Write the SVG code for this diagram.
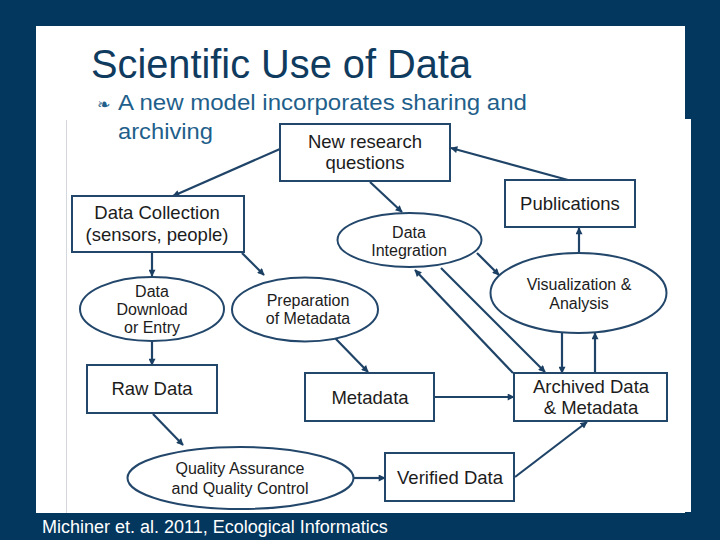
<svg xmlns="http://www.w3.org/2000/svg" width="720" height="540" viewBox="0 0 720 540">
<defs>
<marker id="ah" viewBox="0 0 10 10" refX="9" refY="5" markerWidth="8" markerHeight="7" markerUnits="userSpaceOnUse" orient="auto">
<path d="M0,0 L10,5 L0,10 z" fill="#1b3f63"/>
</marker>
<style>
.box{fill:#ffffff;stroke:#23476b;stroke-width:2}
.t{font-family:"Liberation Sans",Arial,sans-serif;fill:#1c1c1c;text-anchor:middle;font-size:18.5px}
.e{font-size:16px}
.c{fill:none;stroke:#1f4468;stroke-width:2.2;marker-end:url(#ah)}
.h{font-family:"Liberation Sans",Arial,sans-serif}
</style>
</defs>
<rect x="0" y="0" width="720" height="540" fill="#04375e"/>
<rect x="36" y="26" width="649" height="487" fill="#ffffff"/>
<rect x="66" y="119" width="625" height="393" fill="#ffffff"/>
<line x1="66.5" y1="120" x2="66.5" y2="513" stroke="#d4d8dc" stroke-width="1"/>
<g id="title">
<text class="h" x="91" y="78" font-size="41" fill="#0f3b5f" textLength="380" lengthAdjust="spacingAndGlyphs">Scientific Use of Data</text>
<text x="97" y="110" font-family="DejaVu Sans,sans-serif" font-size="16" fill="#1f5f8b">❧</text>
<text class="h" x="118" y="110" font-size="22" fill="#1f5f8b" textLength="409" lengthAdjust="spacingAndGlyphs">A new model incorporates sharing and</text>
<text class="h" x="118" y="139" font-size="22" fill="#1f5f8b" textLength="95" lengthAdjust="spacingAndGlyphs">archiving</text>
</g>
<g id="connectors">
<line class="c" x1="280" y1="149" x2="173" y2="196"/>
<line class="c" x1="568" y1="180" x2="451" y2="148"/>
<line class="c" x1="370" y1="182" x2="402" y2="212"/>
<line class="c" x1="477" y1="253" x2="499" y2="275"/>
<line class="c" x1="579" y1="253" x2="579" y2="228"/>
<line class="c" x1="152" y1="252" x2="152" y2="276"/>
<line class="c" x1="242" y1="253" x2="264" y2="275"/>
<line class="c" x1="152" y1="341" x2="152" y2="365"/>
<line class="c" x1="335" y1="338" x2="368" y2="372"/>
<line class="c" x1="153" y1="414" x2="183" y2="445"/>
<line class="c" x1="353" y1="478" x2="385" y2="478"/>
<line class="c" x1="515" y1="477" x2="587" y2="422"/>
<line class="c" x1="434" y1="397" x2="514" y2="397"/>
<line class="c" x1="562" y1="333" x2="562" y2="373"/>
<line class="c" x1="595" y1="373" x2="595" y2="333"/>
<line class="c" x1="513" y1="373" x2="415" y2="270"/>
<line class="c" x1="441" y1="268" x2="545" y2="372"/>
</g>
<g id="new-research">
<rect class="box" x="280" y="124" width="170" height="57"/>
<text class="t" x="365" y="148">New research</text>
<text class="t" x="365" y="169">questions</text>
</g>
<g id="publications">
<rect class="box" x="505" y="180" width="130" height="47"/>
<text class="t" x="570" y="210">Publications</text>
</g>
<g id="data-collection">
<rect class="box" x="72" y="196" width="172" height="56"/>
<text class="t" x="157" y="219">Data Collection</text>
<text class="t" x="157" y="241">(sensors, people)</text>
</g>
<g id="data-integration">
<ellipse class="box" cx="409.5" cy="240" rx="72" ry="27"/>
<text class="t e" x="409" y="238">Data</text>
<text class="t e" x="409" y="256">Integration</text>
</g>
<g id="visualization">
<ellipse class="box" cx="578.5" cy="293" rx="88" ry="40"/>
<text class="t e" x="579" y="290">Visualization &amp;</text>
<text class="t e" x="579" y="309">Analysis</text>
</g>
<g id="data-download">
<ellipse class="box" cx="152" cy="309" rx="72" ry="32"/>
<text class="t e" x="152" y="297">Data</text>
<text class="t e" x="152" y="315">Download</text>
<text class="t e" x="152" y="333">or Entry</text>
</g>
<g id="preparation">
<ellipse class="box" cx="305" cy="309.5" rx="73" ry="32"/>
<text class="t e" x="308" y="306">Preparation</text>
<text class="t e" x="308" y="324">of Metadata</text>
</g>
<g id="raw-data">
<rect class="box" x="87" y="365" width="130" height="48"/>
<text class="t" x="152" y="395">Raw Data</text>
</g>
<g id="metadata">
<rect class="box" x="305" y="373" width="129" height="48"/>
<text class="t" x="370" y="404">Metadata</text>
</g>
<g id="archived">
<rect class="box" x="514" y="373" width="153" height="48"/>
<text class="t" x="591" y="393">Archived Data</text>
<text class="t" x="591" y="414">&amp; Metadata</text>
</g>
<g id="quality">
<ellipse class="box" cx="240.5" cy="478" rx="113" ry="31"/>
<text class="t e" x="240" y="474">Quality Assurance</text>
<text class="t e" x="240" y="494">and Quality Control</text>
</g>
<g id="verified">
<rect class="box" x="385" y="453" width="129" height="48"/>
<text class="t" x="450" y="484">Verified Data</text>
</g>
<text class="h" x="42" y="533" font-size="18" fill="#ffffff">Michiner et. al. 2011, Ecological Informatics</text>
</svg>
